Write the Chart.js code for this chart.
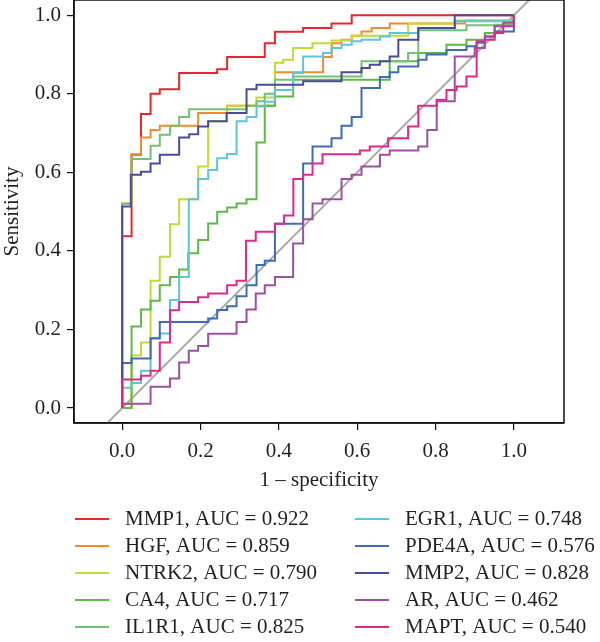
<!DOCTYPE html>
<html>
<head>
<meta charset="utf-8">
<title>ROC curves</title>
<script src="https://cdn.jsdelivr.net/npm/chart.js@4.4.1/dist/chart.umd.min.js"></script>
<style>
  html, body { margin: 0; padding: 0; background: #fff; }
</style>
</head>
<body>
<canvas id="roc" width="600" height="642"></canvas>
<script>
// Tick values shared by both axes
const tickValues = [0, 0.2, 0.4, 0.6, 0.8, 1.0];

// Gene names, AUC values and line colours (legend order)
const genes = ['MMP1', 'HGF', 'NTRK2', 'CA4', 'IL1R1', 'EGR1', 'PDE4A', 'MMP2', 'AR', 'MAPT'];
const aucValues = ['0.922', '0.859', '0.790', '0.717', '0.825', '0.748', '0.576', '0.828', '0.462', '0.540'];
const geneColors = ['#e8262b', '#f08c2e', '#c4d936', '#5fb847', '#72c174', '#5cc6d4', '#3f6db4', '#4b4b9b', '#9b50a4', '#e0288b'];

// ROC points: x = 1 - specificity, y = sensitivity (each point is the top of a vertical rise)
const mmp1Fpr = [0, 0, 0.024, 0.048, 0.0725, 0.096, 0.1455, 0.2425, 0.268, 0.364, 0.390, 0.462, 0.5345, 0.586, 1.0];
const mmp1Tpr = [0, 0.4375, 0.645, 0.749, 0.800, 0.812, 0.853, 0.863, 0.894, 0.929, 0.958, 0.968, 0.979, 1.0, 1.0];

const hgfFpr = [0, 0, 0.024, 0.048, 0.0725, 0.096, 0.194, 0.268, 0.39, 0.513, 0.535, 0.560, 0.586, 0.611, 0.637, 0.683, 0.875, 1.0];
const hgfTpr = [0, 0.52, 0.646, 0.689, 0.708, 0.719, 0.751, 0.770, 0.855, 0.894, 0.929, 0.938, 0.948, 0.959, 0.968, 0.979, 0.987, 1.0];

const ntrk2Fpr = [0, 0.024, 0.048, 0.0725, 0.096, 0.122, 0.1455, 0.194, 0.2195, 0.268, 0.343, 0.39, 0.411, 0.4365, 0.486, 0.5345, 0.586, 0.73, 0.85, 1.0];
const ntrk2Tpr = [0, 0.134, 0.167, 0.324, 0.385, 0.468, 0.532, 0.615, 0.730, 0.770, 0.791, 0.879, 0.887, 0.917, 0.929, 0.936, 0.948, 0.979, 0.987, 1.0];

const ca4Fpr = [0, 0.024, 0.048, 0.0725, 0.096, 0.122, 0.1455, 0.1685, 0.194, 0.2195, 0.2425, 0.268, 0.292, 0.3175, 0.343, 0.364, 0.39, 0.4365, 0.683, 0.756, 0.828, 0.879, 0.926, 0.951, 1.0];
const ca4Tpr = [0, 0.208, 0.251, 0.273, 0.313, 0.334, 0.353, 0.394, 0.428, 0.470, 0.500, 0.511, 0.521, 0.532, 0.676, 0.770, 0.793, 0.836, 0.883, 0.904, 0.925, 0.938, 0.955, 0.976, 1.0];

const il1r1Fpr = [0, 0, 0.024, 0.0725, 0.096, 0.122, 0.1455, 0.171, 0.3175, 0.343, 0.364, 0.39, 0.4365, 0.611, 0.73, 0.756, 0.879, 1.0];
const il1r1Tpr = [0, 0.521, 0.634, 0.668, 0.696, 0.719, 0.741, 0.761, 0.770, 0.781, 0.800, 0.836, 0.844, 0.883, 0.904, 0.962, 0.975, 1.0];

const egr1Fpr = [0, 0, 0.024, 0.048, 0.0725, 0.096, 0.122, 0.1455, 0.170, 0.194, 0.2195, 0.2425, 0.268, 0.292, 0.3175, 0.343, 0.364, 0.39, 0.4365, 0.462, 0.513, 0.5345, 0.56, 0.586, 0.611, 0.658, 0.683, 0.756, 0.85, 1.0];
const egr1Tpr = [0, 0.052, 0.064, 0.095, 0.177, 0.190, 0.275, 0.334, 0.532, 0.583, 0.606, 0.636, 0.647, 0.730, 0.741, 0.768, 0.780, 0.810, 0.853, 0.895, 0.904, 0.917, 0.925, 0.934, 0.938, 0.946, 0.955, 0.968, 0.985, 1.0];

const pde4aFpr = [0, 0, 0.024, 0.0725, 0.096, 0.2195, 0.2425, 0.268, 0.292, 0.3175, 0.343, 0.364, 0.39, 0.462, 0.486, 0.5345, 0.56, 0.586, 0.611, 0.658, 0.683, 0.705, 0.756, 0.777, 0.828, 0.879, 0.905, 0.926, 0.951, 1.0, 1.0];
const pde4aTpr = [0, 0.115, 0.126, 0.178, 0.219, 0.228, 0.250, 0.259, 0.285, 0.313, 0.364, 0.375, 0.469, 0.623, 0.666, 0.687, 0.719, 0.741, 0.815, 0.843, 0.855, 0.870, 0.887, 0.900, 0.912, 0.921, 0.930, 0.946, 0.959, 0.968, 1.0];

const mmp2Fpr = [0, 0, 0.022, 0.048, 0.0725, 0.096, 0.1455, 0.171, 0.194, 0.2195, 0.2665, 0.3175, 0.343, 0.462, 0.560, 0.611, 0.632, 0.658, 0.683, 0.705, 0.756, 0.849, 1.0];
const mmp2Tpr = [0, 0.513, 0.594, 0.602, 0.623, 0.645, 0.689, 0.697, 0.717, 0.730, 0.751, 0.812, 0.823, 0.832, 0.855, 0.866, 0.874, 0.883, 0.895, 0.938, 0.968, 1.0, 1.0];

const arFpr = [0, 0, 0.0725, 0.122, 0.1455, 0.170, 0.194, 0.2195, 0.292, 0.3175, 0.341, 0.364, 0.39, 0.4365, 0.462, 0.486, 0.5115, 0.56, 0.5857, 0.611, 0.658, 0.683, 0.756, 0.779, 0.803, 0.849, 0.900, 0.926, 0.951, 0.973, 1.0];
const arTpr = [0, 0.011, 0.054, 0.075, 0.116, 0.146, 0.158, 0.189, 0.219, 0.251, 0.292, 0.313, 0.334, 0.419, 0.481, 0.521, 0.532, 0.583, 0.594, 0.615, 0.645, 0.656, 0.666, 0.708, 0.781, 0.895, 0.917, 0.946, 0.972, 0.981, 1.0];

const maptFpr = [0, 0, 0.048, 0.0725, 0.096, 0.122, 0.1455, 0.194, 0.2195, 0.268, 0.292, 0.316, 0.341, 0.39, 0.413, 0.437, 0.462, 0.486, 0.5115, 0.607, 0.632, 0.679, 0.730, 0.756, 0.803, 0.828, 0.854, 0.879, 0.905, 0.926, 0.951, 0.973, 1.0];
const maptTpr = [0, 0.073, 0.082, 0.095, 0.167, 0.249, 0.270, 0.282, 0.292, 0.313, 0.324, 0.426, 0.449, 0.469, 0.490, 0.583, 0.594, 0.623, 0.646, 0.656, 0.666, 0.687, 0.717, 0.770, 0.785, 0.810, 0.819, 0.844, 0.934, 0.938, 0.955, 0.972, 1.0];

// Chance line (y = x), clipped to the plot area
const chanceX = [-0.2, 1.2];
const chanceY = [-0.2, 1.2];

const curveFpr = [mmp1Fpr, hgfFpr, ntrk2Fpr, ca4Fpr, il1r1Fpr, egr1Fpr, pde4aFpr, mmp2Fpr, arFpr, maptFpr];
const curveTpr = [mmp1Tpr, hgfTpr, ntrk2Tpr, ca4Tpr, il1r1Tpr, egr1Tpr, pde4aTpr, mmp2Tpr, arTpr, maptTpr];

const toPoints = (xs, ys) => xs.map((x, i) => ({ x, y: ys[i] }));

const FONT = '"Liberation Serif", "Times New Roman", serif';
const FONT_SIZE = 21;
const TEXT = '#231f20';

// 'before' = horizontal run first, then the vertical rise at the next point
const datasets = genes.map((g, i) => ({
    label: g + ', AUC = ' + aucValues[i],
    data: toPoints(curveFpr[i], curveTpr[i]),
    borderColor: geneColors[i],
    backgroundColor: geneColors[i],
    borderWidth: 2,
    stepped: 'before',
    showLine: true,
    pointRadius: 0,
    order: 20 - i
}));

datasets.push({
    label: '',
    data: toPoints(chanceX, chanceY),
    borderColor: '#aaaaaa',
    borderWidth: 2,
    showLine: true,
    pointRadius: 0,
    order: 50
});

// Box round the plot area
const framePlugin = {
    id: 'frame',
    afterDatasetsDraw(chart) {
        const { ctx, chartArea: a } = chart;
        ctx.save();
        ctx.strokeStyle = '#111';
        ctx.lineWidth = 1.5;
        ctx.strokeRect(a.left, a.top, a.right - a.left, a.bottom - a.top);
        ctx.restore();
    }
};

// Two-column legend under the axis title
const legendPlugin = {
    id: 'rocLegend',
    afterDraw(chart) {
        const ctx = chart.ctx;
        ctx.save();
        ctx.font = FONT_SIZE + 'px ' + FONT;
        ctx.textBaseline = 'middle';
        ctx.fillStyle = TEXT;
        genes.forEach((g, i) => {
            const ds = chart.data.datasets[i];
            const col = i < 5 ? 0 : 1;
            const row = i % 5;
            const x0 = col === 0 ? 75 : 355;
            const y = 519 + row * 27;
            ctx.strokeStyle = ds.borderColor;
            ctx.lineWidth = 2;
            ctx.beginPath();
            ctx.moveTo(x0, y);
            ctx.lineTo(x0 + 34, y);
            ctx.stroke();
            ctx.fillText(ds.label, x0 + 50, y);
        });
        ctx.restore();
    }
};

const axisCommon = {
    type: 'linear',
    grid: { display: true, drawOnChartArea: false, drawTicks: true, tickLength: 7, color: '#111', lineWidth: 1.2 },
    border: { display: true, color: '#111', width: 1.5 },
    afterBuildTicks: axis => { axis.ticks = tickValues.map(v => ({ value: v })); }
};

new Chart(document.getElementById('roc'), {
    type: 'scatter',
    data: { datasets },
    plugins: [framePlugin, legendPlugin],
    options: {
        responsive: false,
        animation: false,
        layout: { padding: { top: 0, right: 36, bottom: 149, left: 0 } },
        plugins: { legend: { display: false }, tooltip: { enabled: false } },
        scales: {
            x: {
                ...axisCommon,
                min: -0.123,
                max: 1.128,
                afterFit: s => { s.height = 70; s.paddingLeft = 0; s.paddingRight = 0; },
                ticks: {
                    padding: 9,
                    color: TEXT,
                    font: { family: FONT, size: FONT_SIZE },
                    callback: v => v.toFixed(1)
                },
                title: {
                    display: true,
                    text: '1 \u2013 specificity',
                    color: TEXT,
                    font: { family: FONT, size: FONT_SIZE },
                    padding: 0
                }
            },
            y: {
                ...axisCommon,
                min: -0.038,
                max: 1.039,
                afterFit: s => { s.width = 74; s.paddingTop = 0; s.paddingBottom = 0; },
                ticks: {
                    padding: 6,
                    color: TEXT,
                    font: { family: FONT, size: FONT_SIZE },
                    callback: v => v.toFixed(1)
                },
                title: {
                    display: true,
                    text: 'Sensitivity',
                    color: TEXT,
                    font: { family: FONT, size: FONT_SIZE },
                    padding: 0
                }
            }
        }
    }
});
</script>
</body>
</html>
